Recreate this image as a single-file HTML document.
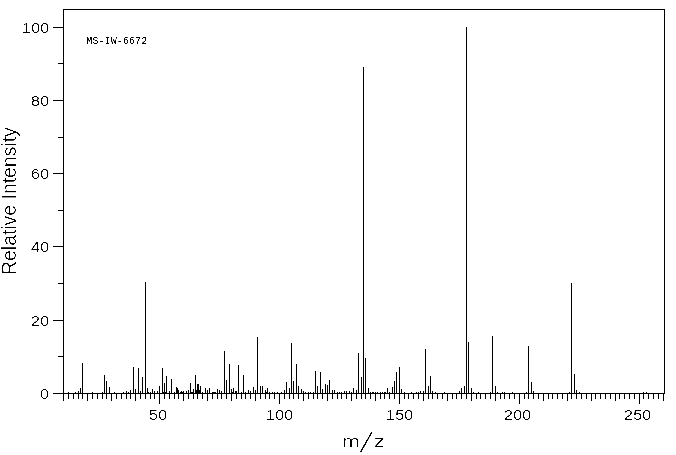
<!DOCTYPE html>
<html><head><meta charset="utf-8"><title>MS-IW-6672</title>
<style>
html,body{margin:0;padding:0;background:#fff;}
body{width:676px;height:455px;position:relative;overflow:hidden;font-family:"Liberation Sans",sans-serif;color:#000;}
svg{position:absolute;left:0;top:0;}
.t{position:absolute;white-space:nowrap;line-height:1;}
#ms,#id{filter:url(#thr);}
.xl,.yl{filter:url(#thr3);}
#ri,#mm,#mzz{filter:url(#thr2);}
.yl{font-size:14px;letter-spacing:0.25px;transform-origin:0 0;transform:scaleX(1.14);}
.xl{font-size:14px;letter-spacing:0.25px;transform-origin:0 0;transform:scaleX(1.14);}
</style></head><body>
<svg width="676" height="455" viewBox="0 0 676 455" shape-rendering="crispEdges" fill="#000"><defs><filter id="thr" x="-5%" y="-5%" width="110%" height="110%" color-interpolation-filters="sRGB"><feComponentTransfer><feFuncA type="linear" slope="5" intercept="-2"/></feComponentTransfer></filter><filter id="thr3" x="-5%" y="-5%" width="110%" height="110%" color-interpolation-filters="sRGB"><feComponentTransfer><feFuncA type="linear" slope="5" intercept="-2.5"/></feComponentTransfer></filter><filter id="thr2" x="-5%" y="-5%" width="110%" height="110%" color-interpolation-filters="sRGB"><feComponentTransfer><feFuncA type="linear" slope="5" intercept="-3"/></feComponentTransfer></filter></defs><rect x="63" y="9" width="602" height="1"/><rect x="53" y="393" width="612" height="1"/><rect x="63" y="9" width="1" height="392"/><rect x="664" y="9" width="1" height="385"/><rect x="53" y="393" width="10" height="1"/><rect x="58" y="356" width="5" height="1"/><rect x="53" y="320" width="10" height="1"/><rect x="58" y="283" width="5" height="1"/><rect x="53" y="246" width="10" height="1"/><rect x="58" y="210" width="5" height="1"/><rect x="53" y="173" width="10" height="1"/><rect x="58" y="137" width="5" height="1"/><rect x="53" y="100" width="10" height="1"/><rect x="58" y="63" width="5" height="1"/><rect x="53" y="27" width="10" height="1"/><rect x="63" y="394" width="1" height="7"/><rect x="68" y="394" width="1" height="5"/><rect x="73" y="394" width="1" height="5"/><rect x="78" y="394" width="1" height="5"/><rect x="82" y="394" width="1" height="5"/><rect x="87" y="394" width="1" height="7"/><rect x="92" y="394" width="1" height="5"/><rect x="97" y="394" width="1" height="5"/><rect x="102" y="394" width="1" height="5"/><rect x="106" y="394" width="1" height="5"/><rect x="111" y="394" width="1" height="7"/><rect x="116" y="394" width="1" height="5"/><rect x="121" y="394" width="1" height="5"/><rect x="126" y="394" width="1" height="5"/><rect x="130" y="394" width="1" height="5"/><rect x="135" y="394" width="1" height="7"/><rect x="140" y="394" width="1" height="5"/><rect x="145" y="394" width="1" height="5"/><rect x="150" y="394" width="1" height="5"/><rect x="154" y="394" width="1" height="5"/><rect x="159" y="394" width="1" height="10"/><rect x="164" y="394" width="1" height="5"/><rect x="169" y="394" width="1" height="5"/><rect x="174" y="394" width="1" height="5"/><rect x="178" y="394" width="1" height="5"/><rect x="183" y="394" width="1" height="7"/><rect x="188" y="394" width="1" height="5"/><rect x="193" y="394" width="1" height="5"/><rect x="197" y="394" width="1" height="5"/><rect x="202" y="394" width="1" height="5"/><rect x="207" y="394" width="1" height="7"/><rect x="212" y="394" width="1" height="5"/><rect x="217" y="394" width="1" height="5"/><rect x="221" y="394" width="1" height="5"/><rect x="226" y="394" width="1" height="5"/><rect x="231" y="394" width="1" height="7"/><rect x="236" y="394" width="1" height="5"/><rect x="241" y="394" width="1" height="5"/><rect x="245" y="394" width="1" height="5"/><rect x="250" y="394" width="1" height="5"/><rect x="255" y="394" width="1" height="7"/><rect x="260" y="394" width="1" height="5"/><rect x="265" y="394" width="1" height="5"/><rect x="269" y="394" width="1" height="5"/><rect x="274" y="394" width="1" height="5"/><rect x="279" y="394" width="1" height="10"/><rect x="284" y="394" width="1" height="5"/><rect x="289" y="394" width="1" height="5"/><rect x="293" y="394" width="1" height="5"/><rect x="298" y="394" width="1" height="5"/><rect x="303" y="394" width="1" height="7"/><rect x="308" y="394" width="1" height="5"/><rect x="313" y="394" width="1" height="5"/><rect x="317" y="394" width="1" height="5"/><rect x="322" y="394" width="1" height="5"/><rect x="327" y="394" width="1" height="7"/><rect x="332" y="394" width="1" height="5"/><rect x="337" y="394" width="1" height="5"/><rect x="341" y="394" width="1" height="5"/><rect x="346" y="394" width="1" height="5"/><rect x="351" y="394" width="1" height="7"/><rect x="356" y="394" width="1" height="5"/><rect x="361" y="394" width="1" height="5"/><rect x="365" y="394" width="1" height="5"/><rect x="370" y="394" width="1" height="5"/><rect x="375" y="394" width="1" height="7"/><rect x="380" y="394" width="1" height="5"/><rect x="384" y="394" width="1" height="5"/><rect x="389" y="394" width="1" height="5"/><rect x="394" y="394" width="1" height="5"/><rect x="399" y="394" width="1" height="10"/><rect x="404" y="394" width="1" height="5"/><rect x="408" y="394" width="1" height="5"/><rect x="413" y="394" width="1" height="5"/><rect x="418" y="394" width="1" height="5"/><rect x="423" y="394" width="1" height="7"/><rect x="428" y="394" width="1" height="5"/><rect x="432" y="394" width="1" height="5"/><rect x="437" y="394" width="1" height="5"/><rect x="442" y="394" width="1" height="5"/><rect x="447" y="394" width="1" height="7"/><rect x="452" y="394" width="1" height="5"/><rect x="456" y="394" width="1" height="5"/><rect x="461" y="394" width="1" height="5"/><rect x="466" y="394" width="1" height="5"/><rect x="471" y="394" width="1" height="7"/><rect x="476" y="394" width="1" height="5"/><rect x="480" y="394" width="1" height="5"/><rect x="485" y="394" width="1" height="5"/><rect x="490" y="394" width="1" height="5"/><rect x="495" y="394" width="1" height="7"/><rect x="500" y="394" width="1" height="5"/><rect x="504" y="394" width="1" height="5"/><rect x="509" y="394" width="1" height="5"/><rect x="514" y="394" width="1" height="5"/><rect x="519" y="394" width="1" height="10"/><rect x="524" y="394" width="1" height="5"/><rect x="528" y="394" width="1" height="5"/><rect x="533" y="394" width="1" height="5"/><rect x="538" y="394" width="1" height="5"/><rect x="543" y="394" width="1" height="7"/><rect x="548" y="394" width="1" height="5"/><rect x="552" y="394" width="1" height="5"/><rect x="557" y="394" width="1" height="5"/><rect x="562" y="394" width="1" height="5"/><rect x="567" y="394" width="1" height="7"/><rect x="571" y="394" width="1" height="5"/><rect x="576" y="394" width="1" height="5"/><rect x="581" y="394" width="1" height="5"/><rect x="586" y="394" width="1" height="5"/><rect x="591" y="394" width="1" height="7"/><rect x="595" y="394" width="1" height="5"/><rect x="600" y="394" width="1" height="5"/><rect x="605" y="394" width="1" height="5"/><rect x="610" y="394" width="1" height="5"/><rect x="615" y="394" width="1" height="7"/><rect x="619" y="394" width="1" height="5"/><rect x="624" y="394" width="1" height="5"/><rect x="629" y="394" width="1" height="5"/><rect x="634" y="394" width="1" height="5"/><rect x="639" y="394" width="1" height="10"/><rect x="643" y="394" width="1" height="5"/><rect x="648" y="394" width="1" height="5"/><rect x="653" y="394" width="1" height="5"/><rect x="658" y="394" width="1" height="5"/><rect x="663" y="394" width="1" height="7"/><rect x="68" y="392" width="1" height="1"/><rect x="75" y="392" width="1" height="1"/><rect x="78" y="391" width="1" height="2"/><rect x="80" y="388" width="1" height="5"/><rect x="82" y="363" width="1" height="30"/><rect x="92" y="392" width="1" height="1"/><rect x="102" y="392" width="1" height="1"/><rect x="104" y="375" width="1" height="18"/><rect x="106" y="381" width="1" height="12"/><rect x="109" y="387" width="1" height="6"/><rect x="114" y="392" width="1" height="1"/><rect x="123" y="392" width="1" height="1"/><rect x="126" y="391" width="1" height="2"/><rect x="128" y="392" width="1" height="1"/><rect x="130" y="390" width="1" height="3"/><rect x="133" y="367" width="1" height="26"/><rect x="135" y="389" width="1" height="4"/><rect x="138" y="368" width="1" height="25"/><rect x="140" y="391" width="1" height="2"/><rect x="142" y="377" width="1" height="16"/><rect x="145" y="282" width="1" height="111"/><rect x="147" y="388" width="1" height="5"/><rect x="148" y="392" width="1" height="1"/><rect x="150" y="392" width="1" height="1"/><rect x="152" y="389" width="1" height="4"/><rect x="154" y="391" width="1" height="2"/><rect x="157" y="391" width="1" height="2"/><rect x="159" y="386" width="1" height="7"/><rect x="162" y="368" width="1" height="25"/><rect x="163" y="392" width="1" height="1"/><rect x="164" y="383" width="1" height="10"/><rect x="165" y="392" width="1" height="1"/><rect x="166" y="376" width="1" height="17"/><rect x="169" y="391" width="1" height="2"/><rect x="171" y="379" width="1" height="14"/><rect x="174" y="392" width="1" height="1"/><rect x="176" y="387" width="1" height="6"/><rect x="177" y="388" width="1" height="5"/><rect x="178" y="390" width="1" height="3"/><rect x="180" y="392" width="1" height="1"/><rect x="181" y="391" width="1" height="2"/><rect x="182" y="392" width="1" height="1"/><rect x="183" y="391" width="1" height="2"/><rect x="186" y="391" width="1" height="2"/><rect x="188" y="390" width="1" height="3"/><rect x="190" y="383" width="1" height="10"/><rect x="191" y="392" width="1" height="1"/><rect x="192" y="392" width="1" height="1"/><rect x="193" y="389" width="1" height="4"/><rect x="195" y="375" width="1" height="18"/><rect x="196" y="390" width="1" height="3"/><rect x="197" y="384" width="1" height="9"/><rect x="198" y="384" width="1" height="9"/><rect x="199" y="390" width="1" height="3"/><rect x="200" y="386" width="1" height="7"/><rect x="202" y="392" width="1" height="1"/><rect x="205" y="388" width="1" height="5"/><rect x="207" y="390" width="1" height="3"/><rect x="209" y="388" width="1" height="5"/><rect x="212" y="392" width="1" height="1"/><rect x="213" y="392" width="1" height="1"/><rect x="214" y="392" width="1" height="1"/><rect x="215" y="392" width="1" height="1"/><rect x="217" y="389" width="1" height="4"/><rect x="219" y="390" width="1" height="3"/><rect x="221" y="391" width="1" height="2"/><rect x="224" y="351" width="1" height="42"/><rect x="226" y="380" width="1" height="13"/><rect x="229" y="364" width="1" height="29"/><rect x="231" y="389" width="1" height="4"/><rect x="232" y="392" width="1" height="1"/><rect x="233" y="388" width="1" height="5"/><rect x="235" y="391" width="1" height="2"/><rect x="236" y="391" width="1" height="2"/><rect x="238" y="365" width="1" height="28"/><rect x="241" y="392" width="1" height="1"/><rect x="243" y="375" width="1" height="18"/><rect x="245" y="392" width="1" height="1"/><rect x="248" y="390" width="1" height="3"/><rect x="250" y="391" width="1" height="2"/><rect x="253" y="387" width="1" height="6"/><rect x="255" y="390" width="1" height="3"/><rect x="257" y="337" width="1" height="56"/><rect x="260" y="386" width="1" height="7"/><rect x="262" y="386" width="1" height="7"/><rect x="265" y="390" width="1" height="3"/><rect x="266" y="392" width="1" height="1"/><rect x="267" y="388" width="1" height="5"/><rect x="269" y="392" width="1" height="1"/><rect x="272" y="392" width="1" height="1"/><rect x="274" y="392" width="1" height="1"/><rect x="277" y="392" width="1" height="1"/><rect x="281" y="392" width="1" height="1"/><rect x="284" y="390" width="1" height="3"/><rect x="286" y="382" width="1" height="11"/><rect x="289" y="388" width="1" height="5"/><rect x="291" y="343" width="1" height="50"/><rect x="293" y="381" width="1" height="12"/><rect x="296" y="364" width="1" height="29"/><rect x="298" y="386" width="1" height="7"/><rect x="301" y="389" width="1" height="4"/><rect x="303" y="391" width="1" height="2"/><rect x="305" y="392" width="1" height="1"/><rect x="308" y="392" width="1" height="1"/><rect x="310" y="392" width="1" height="1"/><rect x="313" y="392" width="1" height="1"/><rect x="315" y="371" width="1" height="22"/><rect x="317" y="386" width="1" height="7"/><rect x="320" y="372" width="1" height="21"/><rect x="322" y="389" width="1" height="4"/><rect x="325" y="384" width="1" height="9"/><rect x="327" y="385" width="1" height="8"/><rect x="329" y="380" width="1" height="13"/><rect x="332" y="390" width="1" height="3"/><rect x="334" y="390" width="1" height="3"/><rect x="337" y="392" width="1" height="1"/><rect x="339" y="392" width="1" height="1"/><rect x="341" y="392" width="1" height="1"/><rect x="344" y="391" width="1" height="2"/><rect x="346" y="391" width="1" height="2"/><rect x="349" y="391" width="1" height="2"/><rect x="351" y="392" width="1" height="1"/><rect x="353" y="388" width="1" height="5"/><rect x="356" y="390" width="1" height="3"/><rect x="358" y="353" width="1" height="40"/><rect x="361" y="377" width="1" height="16"/><rect x="363" y="67" width="1" height="326"/><rect x="365" y="358" width="1" height="35"/><rect x="368" y="388" width="1" height="5"/><rect x="370" y="392" width="1" height="1"/><rect x="372" y="392" width="1" height="1"/><rect x="373" y="392" width="1" height="1"/><rect x="375" y="392" width="1" height="1"/><rect x="377" y="392" width="1" height="1"/><rect x="380" y="392" width="1" height="1"/><rect x="382" y="392" width="1" height="1"/><rect x="384" y="392" width="1" height="1"/><rect x="385" y="392" width="1" height="1"/><rect x="387" y="388" width="1" height="5"/><rect x="389" y="392" width="1" height="1"/><rect x="392" y="387" width="1" height="6"/><rect x="394" y="381" width="1" height="12"/><rect x="396" y="372" width="1" height="21"/><rect x="399" y="367" width="1" height="26"/><rect x="401" y="389" width="1" height="4"/><rect x="404" y="392" width="1" height="1"/><rect x="411" y="392" width="1" height="1"/><rect x="416" y="392" width="1" height="1"/><rect x="418" y="392" width="1" height="1"/><rect x="420" y="391" width="1" height="2"/><rect x="423" y="391" width="1" height="2"/><rect x="425" y="349" width="1" height="44"/><rect x="428" y="386" width="1" height="7"/><rect x="430" y="376" width="1" height="17"/><rect x="432" y="391" width="1" height="2"/><rect x="435" y="392" width="1" height="1"/><rect x="444" y="392" width="1" height="1"/><rect x="459" y="391" width="1" height="2"/><rect x="461" y="388" width="1" height="5"/><rect x="464" y="386" width="1" height="7"/><rect x="466" y="27" width="1" height="366"/><rect x="468" y="342" width="1" height="51"/><rect x="471" y="388" width="1" height="5"/><rect x="473" y="392" width="1" height="1"/><rect x="478" y="392" width="1" height="1"/><rect x="490" y="392" width="1" height="1"/><rect x="492" y="336" width="1" height="57"/><rect x="495" y="386" width="1" height="7"/><rect x="497" y="392" width="1" height="1"/><rect x="502" y="392" width="1" height="1"/><rect x="504" y="392" width="1" height="1"/><rect x="512" y="392" width="1" height="1"/><rect x="526" y="392" width="1" height="1"/><rect x="528" y="346" width="1" height="47"/><rect x="531" y="382" width="1" height="11"/><rect x="533" y="391" width="1" height="2"/><rect x="569" y="392" width="1" height="1"/><rect x="571" y="283" width="1" height="110"/><rect x="574" y="374" width="1" height="19"/><rect x="576" y="390" width="1" height="3"/><rect x="579" y="392" width="1" height="1"/><rect x="643" y="392" width="1" height="1"/><rect x="646" y="392" width="1" height="1"/></svg>
<div class="t" id="id" style="left:86.3px;top:37px;font-family:'Liberation Mono',monospace;font-size:10px;letter-spacing:0.1px;">MS-IW-6672</div>
<div class="t yl" id="y100" style="left:22.20px;top:21.00px;">100</div>
<div class="t yl" id="y80" style="left:30.80px;top:94.00px;">80</div>
<div class="t yl" id="y60" style="left:30.70px;top:167.00px;">60</div>
<div class="t yl" id="y40" style="left:31.40px;top:240.00px;">40</div>
<div class="t yl" id="y20" style="left:30.70px;top:314.00px;">20</div>
<div class="t yl" id="y0" style="left:39.60px;top:387.00px;">0</div>
<div class="t xl" id="x50" style="left:149.00px;top:408.00px;">50</div>
<div class="t xl" id="x100" style="left:265.60px;top:408.00px;">100</div>
<div class="t xl" id="x150" style="left:385.60px;top:408.00px;">150</div>
<div class="t xl" id="x200" style="left:504.00px;top:408.00px;">200</div>
<div class="t xl" id="x250" style="left:624.00px;top:408.00px;">250</div>
<div class="t" id="mz" style="left:0;top:0;font-size:19px;"><span id="mm" style="position:absolute;left:342.0px;top:431px;transform-origin:0 16px;transform:scale(1.13,0.9)">m</span><span id="ms" style="position:absolute;left:363px;top:434px;transform:skewX(-20.8deg) scaleY(1.41);">/</span><span id="mzz" style="position:absolute;left:373.8px;top:431px;transform-origin:0 16px;transform:scale(1.12,0.9)">z</span></div>
<div class="t" id="ri" style="left:0;top:0;font-size:19.5px;letter-spacing:-0.04px;transform-origin:0 0;transform:translate(0px,275px) rotate(-90deg);">Relative Intensity</div>
</body></html>
